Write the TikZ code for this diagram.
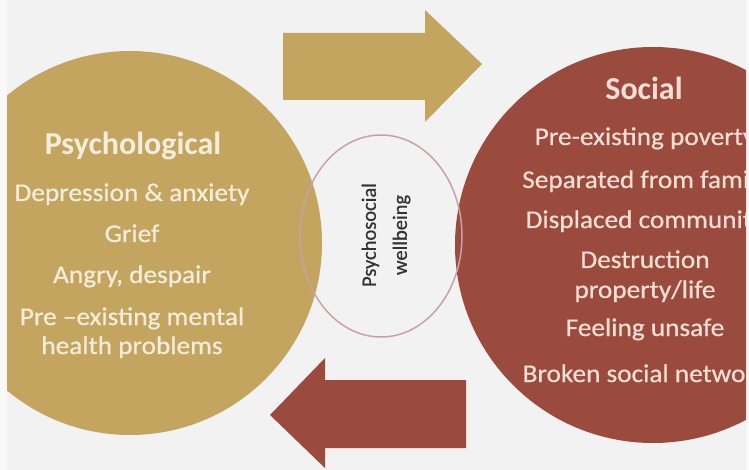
\documentclass[tikz,border=0pt]{standalone}
\usepackage{fontspec}
\setmainfont{Carlito}
\newfontfamily\itemfont[FakeStretch=1.07, FakeBold=0.6]{Carlito}
\newfontfamily\midfont[FakeBold=0.6]{Carlito}
\definecolor{bgc}{HTML}{F2F2F2}
\definecolor{edgec}{HTML}{F8F8F8}
\definecolor{goldc}{HTML}{C3A55F}
\definecolor{brownc}{HTML}{9A4B3D}
\definecolor{ringc}{HTML}{C9A1A9}
\definecolor{goldtxt}{HTML}{F4EDDC}
\definecolor{browntxt}{HTML}{F4DED6}
\definecolor{midtxt}{HTML}{333333}
\tikzset{
  title/.style={anchor=base, inner sep=0pt, font=\fontsize{32}{36}\selectfont\bfseries},
  item/.style={anchor=base, inner sep=0pt, font=\itemfont\fontsize{25.5}{29}\selectfont},
  gtxt/.style={text=goldtxt},
  btxt/.style={text=browntxt},
}
\begin{document}
\begin{tikzpicture}[x=1pt,y=-1pt]
\fill[edgec] (0,0) rectangle (749,470);
\fill[bgc] (7,0) rectangle (746,470);
\useasboundingbox (0,0) rectangle (749,470);
\begin{scope}
\clip (7,0) rectangle (746,470);
\node[circle, fill=goldc, minimum size=384pt, inner sep=0pt] (psy) at (130,243) {};
\node[circle, fill=brownc, minimum size=396pt, inner sep=0pt] (soc) at (653,245) {};
% top arrow
\fill[goldc] (283,33) -- (425,33) -- (425,10) -- (482,64) -- (425,122) -- (425,100) -- (283,100) -- cycle;
% bottom arrow
\fill[brownc] (466,380) -- (325,380) -- (325,358) -- (270,415) -- (325,468) -- (325,448) -- (466,448) -- cycle;
% centre ring
\draw[ringc, line width=1.5pt] (381,236) ellipse [x radius=81, y radius=101];
% left texts
\node[title, gtxt] (pt) at (133,155) {Psychological};
\node[item, gtxt] (p1) at (132,201) {Depression \& anxiety};
\node[item, gtxt] (p2) at (132,242) {Grief};
\node[item, gtxt] (p3) at (132,283) {Angry, despair};
\node[item, gtxt] (p4a) at (132,325) {Pre –existing mental};
\node[item, gtxt] (p4b) at (132,354) {health problems};
% right texts
\node[title, btxt] (st) at (644,100) {Social};
\node[item, btxt] (s1) at (645,145) {Pre-existing poverty};
\node[item, btxt] (s2) at (645,188) {Separated from family};
\node[item, btxt] (s3) at (645,228) {Displaced community};
\node[item, btxt] (s4a) at (645,268) {Destruction};
\node[item, btxt] (s4b) at (645,298) {property/life};
\node[item, btxt] (s5) at (645,336) {Feeling unsafe};
\node[item, btxt] (s6) at (645,382) {Broken social network};
\end{scope}
% middle text
\node[rotate=90, align=center, text=midtxt, inner sep=0pt, font=\midfont\fontsize{20.5}{31}\selectfont] (mid) at (386,235) {Psychosocial\\wellbeing};
\end{tikzpicture}
\end{document}
